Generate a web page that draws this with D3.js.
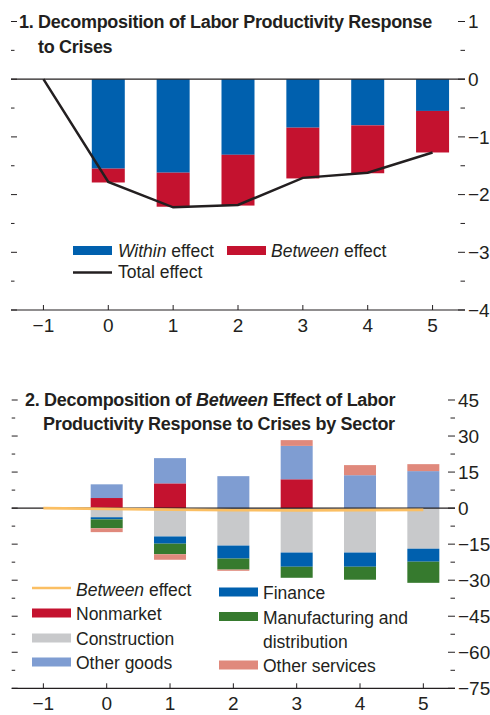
<!DOCTYPE html>
<html>
<head>
<meta charset="utf-8">
<script src="https://cdn.jsdelivr.net/npm/d3@7"></script>
<style>
  body { margin: 0; background: #fff; }
  svg { display: block; }
  text { font-family: "Liberation Sans Narrow", "Arial Narrow", sans-serif; fill: #231f20; }
  .title { font-weight: bold; font-size: 18px; letter-spacing: -0.3px; }
  .tick-label { font-size: 19px; }
  .legend { font-size: 17.5px; }
</style>
</head>
<body>
<svg width="490" height="715"></svg>
<script>
// panel 1 data
const years = [-1, 0, 1, 2, 3, 4, 5];
const barYears = [0, 1, 2, 3, 4, 5];
const withinEffect = [-1.55, -1.62, -1.31, -0.84, -0.80, -0.55];
const betweenEffect = [-0.24, -0.59, -0.88, -0.88, -0.83, -0.72];
const totalEffect = [0, -1.78, -2.22, -2.18, -1.71, -1.62, -1.27];
const yTicks1 = [1, 0, -1, -2, -3, -4];

// panel 2 data
const sectors = ["Nonmarket", "Construction", "Other goods", "Finance", "Manufacturing", "Other services"];
const nonmarket = [4.2, 10.3, 0, 12.0, 0, 0];
const construction = [-3.8, -11.8, -15.6, -18.5, -18.5, -16.9];
const otherGoods = [5.7, 10.5, 13.3, 13.9, 13.7, 15.4];
const finance = [-0.9, -3.0, -5.4, -5.9, -5.9, -5.4];
const manufacturing = [-3.7, -4.4, -4.6, -4.6, -5.4, -8.8];
const otherServices = [-1.6, -2.3, -0.5, 2.4, 4.2, 2.9];
const betweenLine = [0, -0.3, -0.6, -0.9, -0.9, -0.8, -0.7];
const yTicks2 = [45, 30, 15, 0, -15, -30, -45, -60, -75];

const colors = {
    within: "#0060ae",
    between: "#c4122f",
    "Nonmarket": "#c4122f",
    "Construction": "#c8c9cb",
    "Other goods": "#7f9dd2",
    "Finance": "#0060ae",
    "Manufacturing": "#367a2e",
    "Other services": "#e0897c",
    betweenLine: "#fbbf63",
    ink: "#231f20"
};

const svg = d3.select("svg");
const fmt = v => v < 0 ? "\u2212" + Math.abs(v) : "" + v;

function frame(x, y, ticks, step, labelX, axisY, labelDy) {
    const g = svg.append("g");
    const [x0, x1] = x.range();
    // y ticks on both sides, major and minor
    ticks.forEach(t => {
        [[t, 6], [t - step / 2, 3.5]].forEach(([v, len]) => {
            if (v < y.domain()[0]) return;
            g.append("line").attr("x1", x0).attr("x2", x0 + len)
                .attr("y1", y(v)).attr("y2", y(v))
                .attr("stroke", colors.ink).attr("stroke-width", 1);
            g.append("line").attr("x1", x1 - len - 1).attr("x2", x1)
                .attr("y1", y(v)).attr("y2", y(v))
                .attr("stroke", colors.ink).attr("stroke-width", 1);
        });
        g.append("text").attr("class", "tick-label")
            .attr("x", labelX).attr("y", y(t)).attr("dy", "0.36em")
            .text(fmt(t));
    });
    // x axis at bottom
    g.append("line").attr("x1", x0).attr("x2", x1)
        .attr("y1", axisY).attr("y2", axisY)
        .attr("stroke", colors.ink).attr("stroke-width", 1.2);
    years.forEach(v => {
        g.append("line").attr("x1", x(v)).attr("x2", x(v))
            .attr("y1", axisY - 5).attr("y2", axisY)
            .attr("stroke", colors.ink).attr("stroke-width", 1);
        g.append("text").attr("class", "tick-label")
            .attr("x", x(v)).attr("y", axisY + labelDy)
            .attr("text-anchor", "middle").text(fmt(v));
    });
}

// ---------- Panel 1 ----------
const x1 = d3.scaleLinear().domain([-1.5, 5.5]).range([11, 465]);
const y1 = d3.scaleLinear().domain([-4, 1]).range([310, 21.5]);
const bw1 = 33;

frame(x1, y1, yTicks1, 1, 468, y1(-4), 22);

const p1 = svg.append("g");
p1.selectAll("rect.within")
    .data(barYears)
    .enter().append("rect")
    .attr("class", "within")
    .attr("x", (d, i) => x1(d) - bw1 / 2)
    .attr("width", bw1)
    .attr("y", y1(0))
    .attr("height", (d, i) => y1(withinEffect[i]) - y1(0))
    .attr("fill", colors.within);
p1.selectAll("rect.between")
    .data(barYears)
    .enter().append("rect")
    .attr("class", "between")
    .attr("x", (d, i) => x1(d) - bw1 / 2)
    .attr("width", bw1)
    .attr("y", (d, i) => y1(withinEffect[i]))
    .attr("height", (d, i) => y1(withinEffect[i] + betweenEffect[i]) - y1(withinEffect[i]))
    .attr("fill", colors.between);
p1.append("line").attr("x1", x1.range()[0]).attr("x2", x1.range()[1])
    .attr("y1", y1(0)).attr("y2", y1(0))
    .attr("stroke", colors.ink).attr("stroke-width", 1.2);
p1.append("path")
    .datum(years.map((d, i) => [d, totalEffect[i]]))
    .attr("fill", "none")
    .attr("stroke", colors.ink)
    .attr("stroke-width", 2.5)
    .attr("d", d3.line().x(d => x1(d[0])).y(d => y1(d[1])));

// title 1
p1.append("text").attr("class", "title").attr("x", 19).attr("y", 28)
    .text("1. Decomposition of Labor Productivity Response");
p1.append("text").attr("class", "title").attr("x", 38).attr("y", 53)
    .text("to Crises");

// legend 1
const leg1 = p1.append("g").attr("class", "legend");
leg1.append("rect").attr("x", 73).attr("y", 246).attr("width", 39).attr("height", 9).attr("fill", colors.within);
leg1.append("text").attr("x", 118).attr("y", 257)
    .call(t => { t.append("tspan").attr("font-style", "italic").text("Within"); t.append("tspan").text(" effect"); });
leg1.append("rect").attr("x", 227).attr("y", 246).attr("width", 39).attr("height", 9).attr("fill", colors.between);
leg1.append("text").attr("x", 271).attr("y", 257)
    .call(t => { t.append("tspan").attr("font-style", "italic").text("Between"); t.append("tspan").text(" effect"); });
leg1.append("line").attr("x1", 73).attr("x2", 112).attr("y1", 272.5).attr("y2", 272.5)
    .attr("stroke", colors.ink).attr("stroke-width", 2.5);
leg1.append("text").attr("x", 118).attr("y", 278).text("Total effect");

// ---------- Panel 2 ----------
const x2 = d3.scaleLinear().domain([-1.5, 5.5]).range([11.7, 455]);
const y2 = d3.scaleLinear().domain([-75, 45]).range([688.3, 400]);
const bw2 = 32;

frame(x2, y2, yTicks2, 15, 458, y2(-75), 22);

const series = [nonmarket, construction, otherGoods, finance, manufacturing, otherServices];
const table = barYears.map((yr, i) => {
    const row = { year: yr };
    sectors.forEach((s, k) => { row[s] = series[k][i]; });
    return row;
});
const stacked = d3.stack().keys(sectors).offset(d3.stackOffsetDiverging)(table);

const p2 = svg.append("g");
p2.selectAll("g.layer")
    .data(stacked)
    .enter().append("g")
    .attr("class", "layer")
    .attr("fill", d => colors[d.key])
    .selectAll("rect")
    .data(d => d)
    .enter().append("rect")
    .attr("x", d => x2(d.data.year) - bw2 / 2)
    .attr("width", bw2)
    .attr("y", d => y2(Math.max(d[0], d[1])))
    .attr("height", d => Math.abs(y2(d[0]) - y2(d[1])));

p2.append("line").attr("x1", x2.range()[0]).attr("x2", x2.range()[1])
    .attr("y1", y2(0)).attr("y2", y2(0))
    .attr("stroke", colors.ink).attr("stroke-width", 1.2);
p2.append("path")
    .datum(years.map((d, i) => [d, betweenLine[i]]))
    .attr("fill", "none")
    .attr("stroke", colors.betweenLine)
    .attr("stroke-width", 2.7)
    .attr("d", d3.line().x(d => x2(d[0])).y(d => y2(d[1])));

// title 2
p2.append("text").attr("class", "title").attr("x", 25).attr("y", 406)
    .call(t => {
        t.append("tspan").text("2. Decomposition of ");
        t.append("tspan").attr("font-style", "italic").text("Between");
        t.append("tspan").text(" Effect of Labor");
    });
p2.append("text").attr("class", "title").attr("x", 43).attr("y", 430)
    .text("Productivity Response to Crises by Sector");

// legend 2
const leg2 = p2.append("g").attr("class", "legend");
leg2.append("line").attr("x1", 32).attr("x2", 71).attr("y1", 588).attr("y2", 588)
    .attr("stroke", colors.betweenLine).attr("stroke-width", 2.7);
leg2.append("text").attr("x", 76).attr("y", 596)
    .call(t => { t.append("tspan").attr("font-style", "italic").text("Between"); t.append("tspan").text(" effect"); });

const legendItems = [
    { key: "Nonmarket", x: 32, cy: 613, lines: ["Nonmarket"] },
    { key: "Construction", x: 32, cy: 638, lines: ["Construction"] },
    { key: "Other goods", x: 32, cy: 662, lines: ["Other goods"] },
    { key: "Finance", x: 219, cy: 592, lines: ["Finance"] },
    { key: "Manufacturing", x: 219, cy: 616.5, lines: ["Manufacturing and", "distribution"] },
    { key: "Other services", x: 219, cy: 665, lines: ["Other services"] }
];
legendItems.forEach(it => {
    leg2.append("rect").attr("x", it.x).attr("y", it.cy - 4.5)
        .attr("width", 39).attr("height", 9).attr("fill", colors[it.key]);
    it.lines.forEach((s, j) => {
        leg2.append("text").attr("x", it.x + 44).attr("y", it.cy + 7 + j * 24.5).text(s);
    });
});
</script>
</body>
</html>
